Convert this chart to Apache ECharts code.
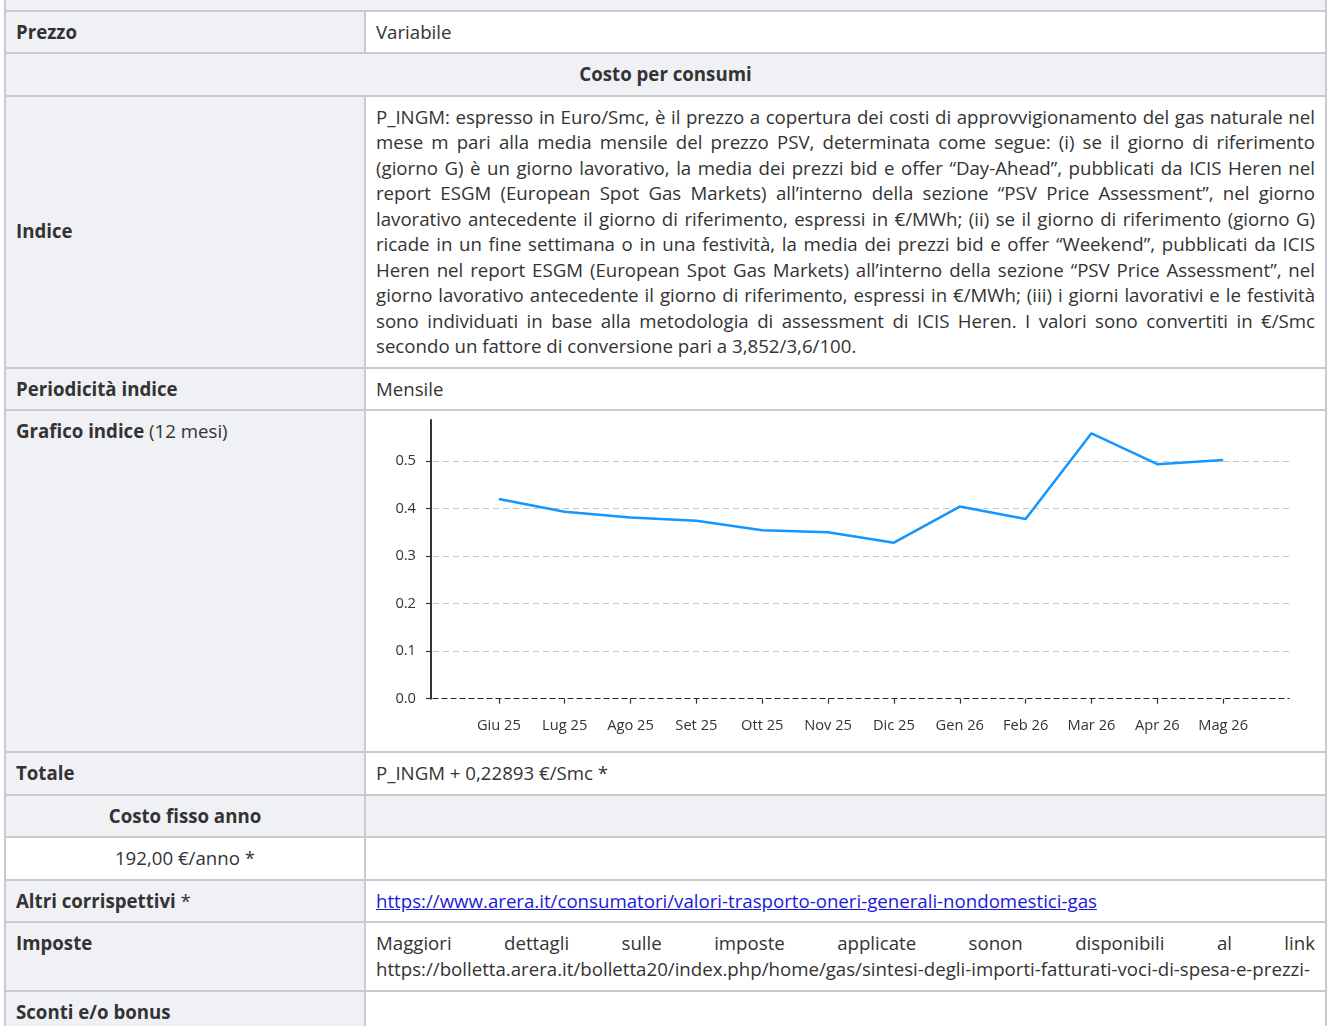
<!DOCTYPE html>
<html>
<head>
<meta charset="utf-8">
<script src="https://cdn.jsdelivr.net/npm/echarts@6/dist/echarts.min.js"></script>
<style>
  html, body { margin: 0; padding: 0; background: #fff; }
  body { width: 1327px; height: 1026px; overflow: hidden; position: relative;
         font-family: "Open Sans", sans-serif; font-size: 18.67px; color: #333; }
  table { position: absolute; left: 4px; top: -33px; width: 1323px;
          border-collapse: collapse; table-layout: fixed; }
  td { border: 2px solid #c9cacf; padding: 7px 10px 8px 10px; line-height: 25.5px;
       vertical-align: middle; background: #fff; }
  td.l { background: #f0f1f5; font-weight: 700; }
  td.g { background: #f0f1f5; }
  td.c { text-align: center; }
  td.top { vertical-align: top; }
  td.tall { padding-bottom: 9px; }
  .n { font-weight: 400; }
  .j div { text-align: justify; text-align-last: justify; }
  .j div.last { text-align-last: left; }
  a { color: #1a1ad6; }
  #chartcell { padding: 0; }
  #chart { width: 100%; height: 340px; }
</style>
</head>
<body>
<table>
  <colgroup><col style="width:360px"><col></colgroup>
  <tr><td class="l c" colspan="2">&nbsp;</td></tr>
  <tr><td class="l">Prezzo</td><td>Variabile</td></tr>
  <tr><td class="l c" colspan="2">Costo per consumi</td></tr>
  <tr><td class="l">Indice</td><td class="j">
    <div>P_INGM: espresso in Euro/Smc, è il prezzo a copertura dei costi di approvvigionamento del gas naturale nel</div>
    <div>mese m pari alla media mensile del prezzo PSV, determinata come segue: (i) se il giorno di riferimento</div>
    <div>(giorno G) è un giorno lavorativo, la media dei prezzi bid e offer “Day-Ahead”, pubblicati da ICIS Heren nel</div>
    <div>report ESGM (European Spot Gas Markets) all’interno della sezione “PSV Price Assessment”, nel giorno</div>
    <div>lavorativo antecedente il giorno di riferimento, espressi in €/MWh; (ii) se il giorno di riferimento (giorno G)</div>
    <div>ricade in un fine settimana o in una festività, la media dei prezzi bid e offer “Weekend”, pubblicati da ICIS</div>
    <div>Heren nel report ESGM (European Spot Gas Markets) all’interno della sezione “PSV Price Assessment”, nel</div>
    <div>giorno lavorativo antecedente il giorno di riferimento, espressi in €/MWh; (iii) i giorni lavorativi e le festività</div>
    <div>sono individuati in base alla metodologia di assessment di ICIS Heren. I valori sono convertiti in €/Smc</div>
    <div class="last">secondo un fattore di conversione pari a 3,852/3,6/100.</div>
  </td></tr>
  <tr><td class="l">Periodicità indice</td><td>Mensile</td></tr>
  <tr><td class="l top">Grafico indice <span class="n">(12 mesi)</span></td><td id="chartcell"><div id="chart"></div></td></tr>
  <tr><td class="l">Totale</td><td>P_INGM + 0,22893 €/Smc *</td></tr>
  <tr><td class="l c">Costo fisso anno</td><td class="g">&nbsp;</td></tr>
  <tr><td class="c">192,00 €/anno *</td><td>&nbsp;</td></tr>
  <tr><td class="l">Altri corrispettivi <span class="n">*</span></td><td><a href="#">https://www.arera.it/consumatori/valori-trasporto-oneri-generali-nondomestici-gas</a></td></tr>
  <tr><td class="l top tall">Imposte</td><td class="j tall"><div>Maggiori dettagli sulle imposte applicate sonon disponibili al link</div><div class="last">https://bolletta.arera.it/bolletta20/index.php/home/gas/sintesi-degli-importi-fatturati-voci-di-spesa-e-prezzi-</div></td></tr>
  <tr><td class="l">Sconti e/o bonus</td><td>&nbsp;</td></tr>
  <tr><td class="l">&nbsp;</td><td>&nbsp;</td></tr>
</table>
<script>
const months = ['Giu 25','Lug 25','Ago 25','Set 25','Ott 25','Nov 25','Dic 25','Gen 26','Feb 26','Mar 26','Apr 26','Mag 26'];
const indexValues = [0.420, 0.393, 0.381, 0.374, 0.354, 0.350, 0.328, 0.404, 0.378, 0.558, 0.493, 0.502];
const yTicks = [0, 0.1, 0.2, 0.3, 0.4, 0.5];

const cats = [''].concat(months, ['']);
const vals = [null].concat(indexValues, [null]);
const chart = echarts.init(document.getElementById('chart'), null, { renderer: 'canvas' });
const txt = { color: '#333', fontSize: 14.67, fontFamily: 'Open Sans' };
chart.setOption({
  animation: false,
  grid: { left: 67, right: 36, top: 9, bottom: 52.3, containLabel: false },
  xAxis: {
    type: 'category', data: cats, boundaryGap: false,
    axisLine: { show: true, lineStyle: { color: '#222', width: 1.2, type: [5, 4] } },
    axisTick: { show: true, length: 5, lineStyle: { color: '#333', width: 1.2 },
                interval: function (i) { return i > 0 && i < cats.length - 1; } },
    axisLabel: Object.assign({ margin: 19.5, interval: 0 }, txt),
    splitLine: { show: false }
  },
  yAxis: {
    type: 'value', min: 0, max: 0.586, interval: 0.1, offset: 2,
    axisLine: { show: true, lineStyle: { color: '#333', width: 2 } },
    axisTick: { show: true, length: 5, customValues: yTicks, lineStyle: { color: '#333', width: 1.2 } },
    axisLabel: Object.assign({ margin: 15, customValues: yTicks,
      formatter: function (v) { return v.toFixed(1); } }, txt),
    splitLine: { show: true, showMinLine: false,
                 lineStyle: { color: '#c4c4c4', width: 1, type: [6, 4] } }
  },
  series: [{
    type: 'line', data: vals, showSymbol: false, smooth: false, connectNulls: false,
    lineStyle: { color: '#1496ff', width: 2.5 }, itemStyle: { color: '#1496ff' }
  }]
});
</script>
</body>
</html>
